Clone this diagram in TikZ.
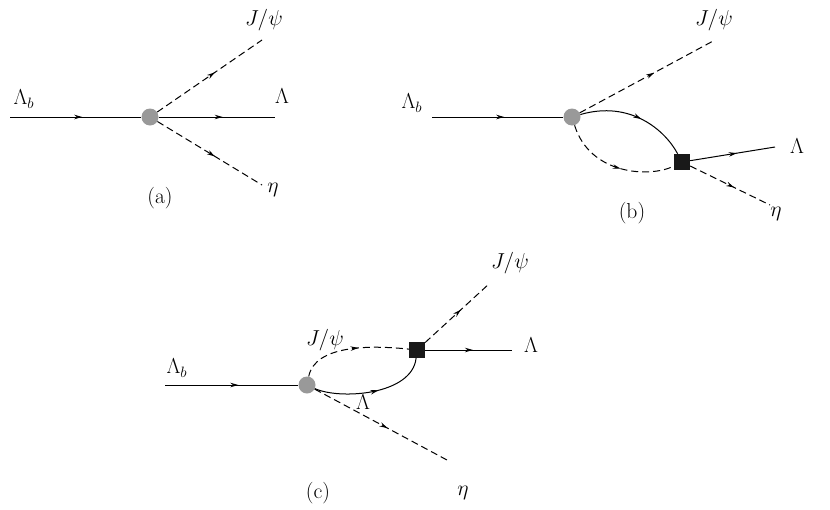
\documentclass[tikz,border=0pt]{standalone}
\usetikzlibrary{decorations.markings,arrows.meta}
\begin{document}
\begin{tikzpicture}[x=1pt,y=-1pt,
  ferm/.style={line width=1pt,postaction={decorate},decoration={markings,mark=at position 0.55 with {\arrow{Stealth[length=8pt,width=4.5pt]}}}},
  scal/.style={ferm,dashed,dash pattern=on 7pt off 4pt},
  blob/.style={circle,fill=gray!80,minimum size=17pt,inner sep=0pt},
  sq/.style={rectangle,fill=black!90,minimum size=16pt,inner sep=0pt},
  lab/.style={font=\LARGE,scale=1.25}]
\useasboundingbox (0,0) rectangle (830,509);
% (a)
\coordinate (a0) at (10,117); \node[blob] (av) at (150,117) {};
\coordinate (a1) at (275,117); \coordinate (a2) at (262,40); \coordinate (a3) at (262,185);
\draw[ferm] (a0) -- (av); \draw[ferm] (av) -- (a1);
\draw[scal] (av) -- (a2); \draw[scal] (av) -- (a3);
\node[lab] (la1) at (24,99) {$\Lambda_b$};
\node[lab] (la2) at (282,96) {$\Lambda$};
\node[lab] (la3) at (264,20) {$J/\psi$};
\node[lab] (la4) at (273,190) {$\eta$};
\node[lab] (la5) at (160,198) {(a)};
% (b)
\coordinate (b0) at (432,117); \node[blob] (bv) at (572,117) {};
\node[sq] (bs) at (682,162) {};
\coordinate (b1) at (775,147); \coordinate (b2) at (715,40); \coordinate (b3) at (770,205);
\draw[ferm] (b0) -- (bv);
\draw[ferm] (bv) .. controls (630,100) and (665,130) .. (bs);
\draw[scal] (bv) .. controls (590,175) and (650,178) .. (bs);
\draw[ferm] (bs) -- (b1);
\draw[scal] (bv) -- (b2); \draw[scal] (bs) -- (b3);
\node[lab] (lb1) at (412,103) {$\Lambda_b$};
\node[lab] (lb2) at (797,146) {$\Lambda$};
\node[lab] (lb3) at (714,20) {$J/\psi$};
\node[lab] (lb4) at (776,214) {$\eta$};
\node[lab] (lb5) at (632,213) {(b)};
% (c)
\coordinate (c0) at (165,385); \node[blob] (cv) at (307,385) {};
\node[sq] (cs) at (417,350) {};
\coordinate (c1) at (512,350); \coordinate (c2) at (490,283); \coordinate (c3) at (447,460);
\draw[ferm] (c0) -- (cv);
\draw[scal] (cv) .. controls (315,345) and (370,345) .. (cs);
\draw[ferm] (cv) .. controls (340,400) and (412,395) .. (cs);
\draw[ferm] (cs) -- (c1);
\draw[scal] (cs) -- (c2); \draw[scal] (cv) -- (c3);
\node[lab] (lc1) at (177,368) {$\Lambda_b$};
\node[lab] (lc2) at (531,345) {$\Lambda$};
\node[lab] (lc3) at (510,263) {$J/\psi$};
\node[lab] (lc4) at (463,493) {$\eta$};
\node[lab] (lc5) at (318,493) {(c)};
\node[lab] (lc6) at (325,340) {$J/\psi$};
\node[lab] (lc7) at (363,402) {$\Lambda$};
\end{tikzpicture}
\end{document}
